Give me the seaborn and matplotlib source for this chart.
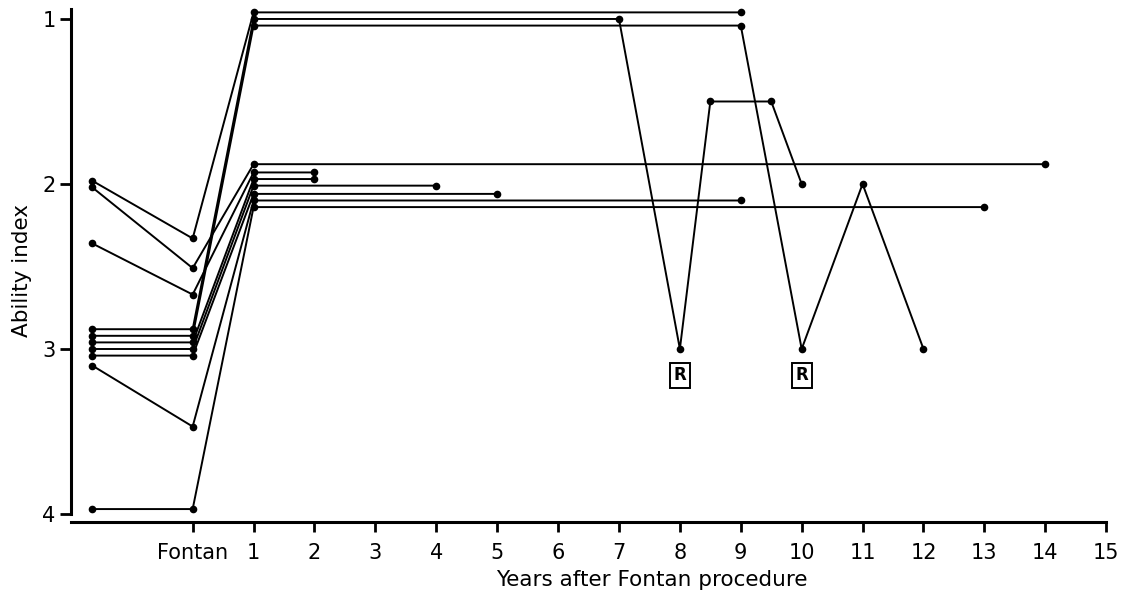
import numpy as np
import pandas as pd
import matplotlib
matplotlib.use("Agg")
import matplotlib.pyplot as plt
import seaborn as sns

# ========= DATA =========
# one entry per patient: score before the operation, at Fontan, 1 year after,
# then the later follow-up visits
preop_x = -1.65
preop_score = [1.98, 2.02, 2.36, 2.88, 2.92, 2.96, 3.00, 3.04, 3.10, 3.97]
fontan_score = [2.33, 2.51, 2.67, 2.88, 2.92, 2.96, 3.00, 3.04, 3.47, 3.97]
year1_score = [0.96, 1.88, 1.93, 1.00, 1.04, 1.97, 2.01, 2.06, 2.10, 2.14]

followup_years = [
    [9], [14], [2], [7, 8, 8.5, 9.5, 10], [9, 10, 11, 12],
    [2], [4], [5], [9], [13],
]
followup_scores = [
    [0.96], [1.88], [1.93], [1.00, 3.00, 1.50, 1.50, 2.00], [1.04, 3.00, 2.00, 3.00],
    [1.97], [2.01], [2.06], [2.10], [2.14],
]

# reoperations
redo_years = [8, 10]
redo_label_y = 3.16

x_ticks = list(range(0, 16))
x_ticklabels = ["Fontan"] + [str(i) for i in range(1, 16)]
y_ticks = [1, 2, 3, 4]

# ========= BUILD TABLE =========
rows = []
for i in range(len(preop_score)):
    xs = [preop_x, 0, 1] + followup_years[i]
    ys = [preop_score[i], fontan_score[i], year1_score[i]] + followup_scores[i]
    for x, y in zip(xs, ys):
        rows.append({"patient": i, "year": x, "score": y})
df = pd.DataFrame(rows)

# ========= PLOT =========
sns.set_style("ticks")
plt.rcParams["font.family"] = ["DejaVu Sans"]
plt.rcParams["text.color"] = "black"
plt.rcParams["axes.labelcolor"] = "black"

fig = plt.figure(figsize=(11.32, 5.9), dpi=100)
ax = fig.add_axes([0.0626, 0.1148, 0.9146, 0.881])

sns.lineplot(
    data=df, x="year", y="score", units="patient", estimator=None, sort=False,
    color="black", linewidth=1.4, marker="o", markersize=5.5,
    markeredgewidth=0, legend=False, ax=ax,
)

for x in redo_years:
    ax.text(x, redo_label_y, "R", ha="center", va="center", fontsize=12,
            fontweight="bold", color="black",
            bbox=dict(boxstyle="square,pad=0.22", fc="white", ec="black", lw=1.4))

ax.set_xlim(-2, 15)
ax.set_ylim(4.05, 0.9)
ax.set_xticks(x_ticks)
ax.set_xticklabels(x_ticklabels)
ax.set_yticks(y_ticks)

for side in ["top", "right"]:
    ax.spines[side].set_visible(False)
for side in ["left", "bottom"]:
    ax.spines[side].set_linewidth(2.2)
    ax.spines[side].set_color("black")
ax.spines["left"].set_bounds(0.94, 4)

ax.tick_params(axis="x", length=7, width=2, pad=8, labelsize=15, colors="black")
ax.tick_params(axis="y", length=8, width=2, pad=3, labelsize=15, colors="black")

ax.set_xlabel("Years after Fontan procedure", fontsize=15.5)
ax.set_ylabel("Ability index", fontsize=15.5)
ax.xaxis.set_label_coords(0.5614, -0.092)
ax.yaxis.set_label_coords(-0.0376, 0.485)

fig.savefig("out.png", dpi=100)
